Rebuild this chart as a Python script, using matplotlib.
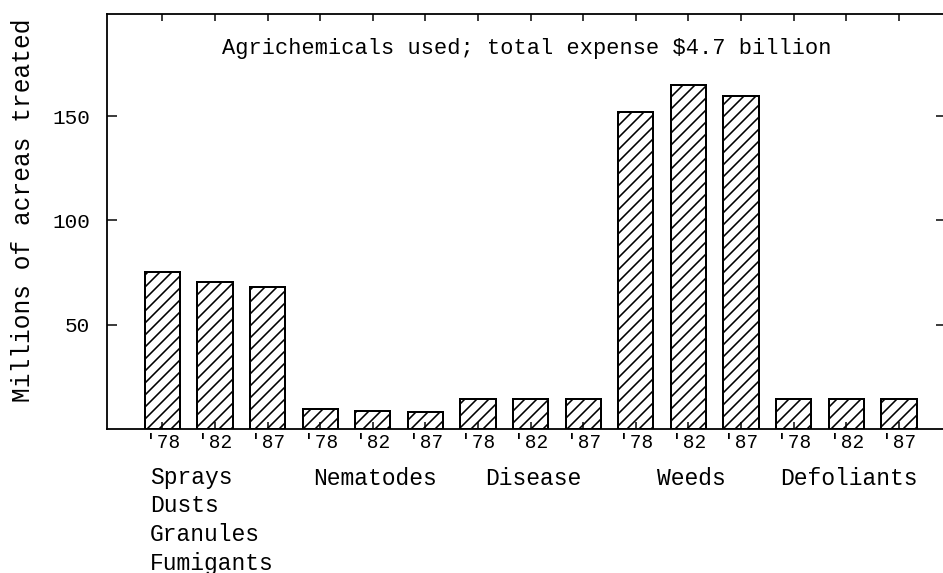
import matplotlib.pyplot as plt
import numpy as np

# Millions of acres treated
years = ["'78", "'82", "'87"]
groups = ["Sprays\nDusts\nGranules\nFumigants", "Nematodes", "Disease", "Weeds", "Defoliants"]
sprays = [75.4, 70.3, 68.2]
nematodes = [9.7, 8.8, 8.0]
disease = [14.5, 14.5, 14.5]
weeds = [152, 164.8, 159.7]
defoliants = [14.4, 14.4, 14.4]

values = sprays + nematodes + disease + weeds + defoliants
tick_labels = years * len(groups)
x = np.arange(len(values))

plt.rcParams['font.family'] = 'Liberation Mono'
plt.rcParams['hatch.linewidth'] = 1.6

# dpi 72 so the hatch spacing matches the scanned figure
fig = plt.figure(figsize=(943 / 72, 573 / 72), dpi=72)
ax = fig.add_axes([0.1135, 0.2513, 0.89, 0.7243])

ax.bar(x, values, width=0.67, facecolor='white', edgecolor='black',
       linewidth=2, hatch='//')

ax.set_xlim(-1.05, 14.9)
ax.set_ylim(0, 199)

ax.set_yticks([50, 100, 150])
ax.set_xticks(x)
ax.set_xticklabels(tick_labels)
ax.tick_params(axis='y', direction='in', length=10, width=1.5, labelsize=21,
               right=True, pad=17)
ax.tick_params(axis='x', direction='in', length=7, width=1.5, labelsize=19.5,
               top=True, pad=4)

for s in ax.spines.values():
    s.set_linewidth(1.8)

ax.set_ylabel('Millions of acreas treated', fontsize=24.5)
ax.yaxis.set_label_coords(-0.086, 0.528)

ax.text(0.5, 0.918, 'Agrichemicals used; total expense \\$4.7 billion',
        transform=ax.transAxes, ha='center', va='center', fontsize=22)

# group labels under the year ticks
tr = ax.get_xaxis_transform()
ax.text(-0.23, -0.088, groups[0], transform=tr, ha='left', va='top',
        fontsize=23, linespacing=1.32)
for i, name in enumerate(groups[1:], start=1):
    ax.text(3 * i + 1.05, -0.12, name, transform=tr, ha='center', va='center',
            fontsize=23)

plt.savefig('out.png', dpi=72)
